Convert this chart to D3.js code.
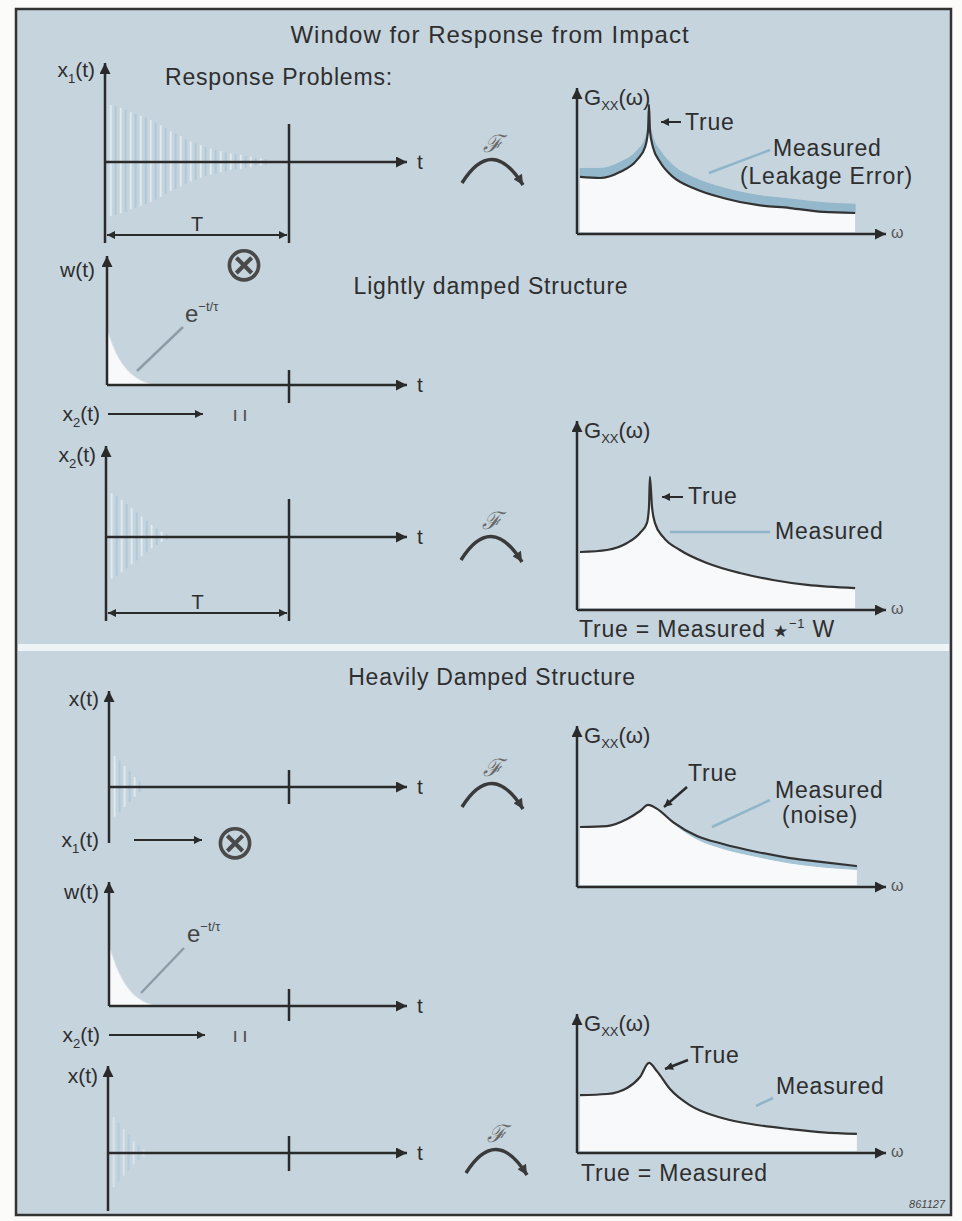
<!DOCTYPE html>
<html>
<head>
<meta charset="utf-8">
<script src="https://cdn.jsdelivr.net/npm/d3@7"></script>
<style>
  body { margin: 0; background: #fbfbfa; }
  text { font-family: "Liberation Sans", Arial, sans-serif; fill: #2e2e2e; }
</style>
</head>
<body>
<svg id="fig" width="962" height="1221"></svg>
<script>
// ---------- data ----------
// time axes are in units of the window length T (T = 1)
// pulse amplitudes of the oscillating response, fraction of full scale
var x1Amp = [0.95, 0.93, 0.9, 0.87, 0.83, 0.8, 0.77, 0.74, 0.7, 0.66, 0.61, 0.56, 0.51, 0.47, 0.43, 0.38,
             0.34, 0.31, 0.28, 0.25, 0.22, 0.2, 0.18, 0.16, 0.14, 0.13, 0.12, 0.1, 0.09, 0.07, 0.06, 0.05];
var x2Amp = [0.73, 0.68, 0.62, 0.55, 0.48, 0.41, 0.34, 0.27, 0.2, 0.14, 0.09, 0.05];
var xHeavyAmp = [0.52, 0.44, 0.35, 0.26, 0.17, 0.09];
var xHeavyWinAmp = [0.6, 0.5, 0.4, 0.3, 0.2, 0.12, 0.06];

// exponential window e^(-t/tau)
var winT = [0, 0.04, 0.08, 0.12, 0.16, 0.2, 0.24];
var winW = [0.43, 0.27, 0.17, 0.1, 0.055, 0.025, 0.008];

// auto spectra G_xx(w), w normalised to the drawn axis
var spec1W    = [0.01, 0.077, 0.143, 0.2, 0.227, 0.237, 0.24, 0.243, 0.253, 0.277, 0.32, 0.387, 0.487, 0.6, 0.71, 0.82, 0.927];
var spec1G    = [0.383, 0.376, 0.416, 0.497, 0.584, 0.698, 0.866, 0.698, 0.584, 0.483, 0.383, 0.309, 0.242, 0.195, 0.174, 0.148, 0.141];
var spec1Meas = [0.44, 0.44, 0.48, 0.56, 0.64, 0.74, 0.87, 0.74, 0.65, 0.56, 0.46, 0.38, 0.31, 0.26, 0.235, 0.21, 0.2];

var spec2W = [0.01, 0.1, 0.167, 0.21, 0.233, 0.24, 0.243, 0.25, 0.26, 0.287, 0.343, 0.433, 0.543, 0.653, 0.767, 0.927];
var spec2G = [0.317, 0.328, 0.366, 0.421, 0.475, 0.563, 0.727, 0.563, 0.475, 0.399, 0.328, 0.257, 0.202, 0.164, 0.137, 0.12];

var spec3W     = [0.01, 0.1, 0.167, 0.21, 0.237, 0.267, 0.32, 0.4, 0.487, 0.6, 0.71, 0.82, 0.933];
var spec3G     = [0.375, 0.381, 0.425, 0.475, 0.513, 0.488, 0.406, 0.319, 0.269, 0.219, 0.181, 0.156, 0.131];
var spec3Noise = [0.375, 0.381, 0.425, 0.475, 0.513, 0.488, 0.4, 0.3, 0.24, 0.19, 0.15, 0.125, 0.11];

var spec4W = [0.01, 0.1, 0.167, 0.21, 0.24, 0.267, 0.31, 0.377, 0.487, 0.6, 0.71, 0.82, 0.933];
var spec4G = [0.426, 0.434, 0.478, 0.559, 0.662, 0.6, 0.47, 0.35, 0.255, 0.206, 0.176, 0.152, 0.14];

// ---------- drawing ----------
var ink = '#2a2a2a',
  paleBlue = '#8fb5c9',
  curveFill = '#f7f9fa';

var svg = d3.select('#fig');
var defs = svg.append('defs');

function makeMarker(id, len, wid, color) {
  defs.append('marker')
    .attr('id', id)
    .attr('viewBox', '0 0 10 10')
    .attr('refX', 10).attr('refY', 5)
    .attr('markerUnits', 'userSpaceOnUse')
    .attr('markerWidth', len).attr('markerHeight', wid)
    .attr('orient', 'auto-start-reverse')
    .append('path')
    .attr('d', 'M0,0 L10,5 L0,10 z')
    .attr('fill', color);
}
makeMarker('ah', 17, 11, ink);
makeMarker('ahSmall', 12, 8, ink);
makeMarker('ahArc', 13, 10, '#3a3a3a');

// frame and panels
svg.append('rect')
  .attr('x', 16).attr('y', 9).attr('width', 935).attr('height', 1206)
  .attr('fill', '#c6d4de').attr('stroke', '#333').attr('stroke-width', 2.5);
svg.append('rect')
  .attr('x', 18).attr('y', 644).attr('width', 931).attr('height', 7)
  .attr('fill', '#eef3f5');

function line(g, x1, y1, x2, y2, color, w) {
  return g.append('line')
    .attr('x1', x1).attr('y1', y1).attr('x2', x2).attr('y2', y2)
    .attr('stroke', color || ink).attr('stroke-width', w || 2.5);
}

function label(x, y, base, sub, rest, size, anchor) {
  var t = svg.append('text')
    .attr('x', x).attr('y', y)
    .attr('text-anchor', anchor || 'start')
    .style('font-size', size + 'px');
  t.append('tspan').text(base);
  if (sub) {
    t.append('tspan').attr('dy', size * 0.28).style('font-size', (size * 0.62) + 'px').text(sub);
    t.append('tspan').attr('dy', -size * 0.28).text(rest);
  } else {
    t.append('tspan').text(rest);
  }
  return t;
}

function bigText(x, y, s, size, anchor, spacing) {
  return svg.append('text')
    .attr('x', x).attr('y', y)
    .attr('text-anchor', anchor || 'start')
    .style('font-size', (size || 23) + 'px')
    .style('letter-spacing', (spacing || 0.8) + 'px')
    .text(s);
}

// time record panels
function drawTimePanel(p) {
  var g = svg.append('g');
  var t = d3.scaleLinear().domain([0, 1]).range([p.ox, 289]);
  var a = d3.scaleLinear().domain([-1, 1]).range([p.oy + 60, p.oy - 60]);

  if (p.amp) {
    var idx = d3.scaleBand()
      .domain(d3.range(p.amp.length))
      .range([t(0.02), t(0.02) + p.amp.length * 5]);
    g.selectAll('.pulse')
      .data(p.amp)
      .enter().append('line')
      .attr('class', 'pulse')
      .attr('x1', function(d, i) { return idx(i) + 2; })
      .attr('x2', function(d, i) { return idx(i) + 2; })
      .attr('y1', function(d) { return a(d); })
      .attr('y2', function(d) { return a(-d * 0.95); })
      .attr('stroke', function(d, i) { return i % 2 ? '#adc8d7' : '#e3edf2'; })
      .attr('stroke-width', 1.8)
      .attr('opacity', p.faint ? 0.7 : 0.95);
  }

  if (p.win) {
    var wy = d3.scaleLinear().domain([0, 1]).range([p.oy, p.top]);
    var pts = winT.map(function(d, i) { return { t: d, w: winW[i] }; });
    g.append('path')
      .datum(pts)
      .attr('d', d3.area()
        .x(function(d) { return t(d.t); })
        .y0(p.oy)
        .y1(function(d) { return wy(d.w * p.winScale); })
        .curve(d3.curveBasis))
      .attr('fill', curveFill)
      .attr('stroke', '#dbe4ea')
      .attr('stroke-width', 1);
  }

  // axes
  line(g, p.ox, p.bottom, p.ox, p.top).attr('marker-end', 'url(#ah)');
  line(g, p.ox, p.oy, 407, p.oy).attr('marker-end', 'url(#ah)');
  svg.append('text').attr('x', 417).attr('y', p.oy + 7).style('font-size', '21px').text('t');

  // window end T
  if (p.tLine) {
    line(g, t(1), p.tLine[0], t(1), p.tLine[1]);
  }
  if (p.dimY) {
    line(g, t(0) + 2, p.dimY, t(1) - 2, p.dimY, ink, 2)
      .attr('marker-start', 'url(#ahSmall)')
      .attr('marker-end', 'url(#ahSmall)');
    svg.append('text')
      .attr('x', t(0.5)).attr('y', p.dimY - 4)
      .attr('text-anchor', 'middle')
      .style('font-size', '20px')
      .text('T');
  }
}

drawTimePanel({ ox: 105, oy: 162, top: 63, bottom: 243, amp: x1Amp, tLine: [124, 243], dimY: 235 });
drawTimePanel({ ox: 107, oy: 385, top: 256, bottom: 385, win: true, winScale: 1, tLine: [370, 403] });
drawTimePanel({ ox: 106, oy: 537, top: 446, bottom: 621, amp: x2Amp, tLine: [499, 621], dimY: 613 });
drawTimePanel({ ox: 109, oy: 787, top: 691, bottom: 843, amp: xHeavyAmp, tLine: [770, 804] });
drawTimePanel({ ox: 109, oy: 1006, top: 882, bottom: 1006, win: true, winScale: 1.15, tLine: [989, 1021] });
drawTimePanel({ ox: 108, oy: 1153, top: 1066, bottom: 1211, amp: xHeavyWinAmp, faint: true, tLine: [1136, 1171] });

// left labels
label(95, 77, 'x', '1', '(t)', 21, 'end');
label(95, 277, 'w(t)', null, '', 21, 'end');
label(100, 421, 'x', '2', '(t)', 21, 'end');
label(96, 462, 'x', '2', '(t)', 21, 'end');
label(99, 706, 'x(t)', null, '', 21, 'end');
label(99, 847, 'x', '1', '(t)', 21, 'end');
label(99, 899, 'w(t)', null, '', 21, 'end');
label(100, 1042, 'x', '2', '(t)', 21, 'end');
label(98, 1083, 'x(t)', null, '', 21, 'end');

// flow arrows between rows
line(svg, 108, 414, 203, 414, ink, 2).attr('marker-end', 'url(#ahSmall)');
line(svg, 134, 840, 202, 840, ink, 2).attr('marker-end', 'url(#ahSmall)');
line(svg, 109, 1035, 205, 1035, ink, 2).attr('marker-end', 'url(#ahSmall)');
[[242, 421], [242, 1042]].forEach(function(p) {
  svg.append('text').attr('x', p[0]).attr('y', p[1])
    .attr('text-anchor', 'middle').style('font-size', '21px').style('fill', '#555')
    .style('letter-spacing', '4px')
    .text('ıı');
});
[[244, 281], [235, 859]].forEach(function(p) {
  svg.append('text').attr('x', p[0]).attr('y', p[1])
    .attr('text-anchor', 'middle')
    .style('font-family', 'DejaVu Sans').style('font-size', '50px').style('fill', '#4a4a4a')
    .text('⊗');
});

// e^-t/tau call-outs
[[185, 322, 183, 327, 137, 371], [187, 942, 184, 948, 141, 993]].forEach(function(p) {
  var t = svg.append('text').attr('x', p[0]).attr('y', p[1]).style('font-size', '24px').style('fill', '#444');
  t.append('tspan').text('e');
  t.append('tspan').attr('dy', -11).style('font-size', '13px').text('−t/τ');
  line(svg, p[2], p[3], p[4], p[5], '#8d9ca6', 2.5);
});

// headings
bigText(490, 43, 'Window for Response from Impact', 24, 'middle', 1);
bigText(165, 85, 'Response Problems:');
bigText(491, 294, 'Lightly damped Structure', 23, 'middle');
bigText(492, 685, 'Heavily Damped Structure', 23, 'middle');

// Fourier transform arcs
[[492, 183], [491, 560], [492, 807], [496, 1173]].forEach(function(c) {
  svg.append('path')
    .attr('d', 'M' + (c[0] - 30) + ',' + c[1] + ' Q' + c[0] + ',' + (c[1] - 48) + ' ' + (c[0] + 31) + ',' + (c[1] + 2))
    .attr('fill', 'none').attr('stroke', '#3a3a3a').attr('stroke-width', 3.5)
    .attr('marker-end', 'url(#ahArc)');
  svg.append('text')
    .attr('x', c[0] + 1).attr('y', c[1] - 31)
    .attr('text-anchor', 'middle')
    .style('font-family', 'DejaVu Serif').style('font-style', 'italic')
    .style('font-size', '24px').style('fill', '#6a6a6a')
    .text('ℱ');
});

// spectra
function drawSpectrum(s) {
  var g = svg.append('g');
  var w = d3.scaleLinear().domain([0, 1]).range([577, 877]);
  var G = d3.scaleLinear().domain([0, 1]).range([s.base, s.gTop]);
  var pts = s.w.map(function(d, i) {
    return { w: d, g: s.g[i], m: s.meas ? s.meas[i] : s.g[i] };
  });

  g.append('path')
    .datum(pts)
    .attr('d', d3.area()
      .x(function(d) { return w(d.w); })
      .y0(s.base - 2)
      .y1(function(d) { return G(d.g); })
      .curve(d3.curveMonotoneX))
    .attr('fill', curveFill);

  if (s.meas) {
    g.append('path')
      .datum(pts)
      .attr('d', d3.area()
        .x(function(d) { return w(d.w); })
        .y0(function(d) { return G(d.g); })
        .y1(function(d) { return G(d.m); })
        .curve(d3.curveMonotoneX))
      .attr('fill', s.bandColor)
      .attr('stroke', s.bandColor)
      .attr('stroke-width', 1);
  }

  g.append('path')
    .datum(pts)
    .attr('d', d3.line()
      .x(function(d) { return w(d.w); })
      .y(function(d) { return G(d.g); })
      .curve(d3.curveMonotoneX))
    .attr('fill', 'none')
    .attr('stroke', '#333')
    .attr('stroke-width', 2.2);

  line(g, w(0), s.base, w(0), s.axisTop).attr('marker-end', 'url(#ah)');
  line(g, w(0), s.base, 886, s.base).attr('marker-end', 'url(#ah)');
  svg.append('text').attr('x', 891).attr('y', s.base + 4)
    .style('font-size', '16px').style('fill', '#555').text('ω');

  var gl = svg.append('text').attr('x', 584).attr('y', s.axisTop + 17).style('font-size', '22px');
  gl.append('tspan').text('G');
  gl.append('tspan').attr('dy', 5).style('font-size', '13px').text('XX');
  gl.append('tspan').attr('dy', -5).text('(ω)');
}

drawSpectrum({ base: 234, gTop: 85, axisTop: 88, w: spec1W, g: spec1G, meas: spec1Meas, bandColor: '#93b7cb' });
drawSpectrum({ base: 610, gTop: 427, axisTop: 421, w: spec2W, g: spec2G });
drawSpectrum({ base: 887, gTop: 727, axisTop: 726, w: spec3W, g: spec3G, meas: spec3Noise, bandColor: '#a5c4d5' });
drawSpectrum({ base: 1153, gTop: 1017, axisTop: 1014, w: spec4W, g: spec4G });

// spectrum annotations
line(svg, 681, 122, 661, 122, ink, 2).attr('marker-end', 'url(#ahSmall)');
bigText(685, 130, 'True');
bigText(773, 156, 'Measured');
bigText(740, 184, '(Leakage Error)');
line(svg, 770, 150, 709, 173, paleBlue, 2.5);

line(svg, 683, 497, 662, 497, ink, 2).attr('marker-end', 'url(#ahSmall)');
bigText(688, 504, 'True');
bigText(775, 539, 'Measured');
line(svg, 770, 532, 670, 532, paleBlue, 2.5);
var eq = bigText(579, 637, 'True = Measured ');
eq.append('tspan').style('font-size', '17px').text('★');
eq.append('tspan').attr('dy', -9).style('font-size', '13px').text('−1');
eq.append('tspan').attr('dy', 9).text(' W');

line(svg, 687, 787, 664, 807, ink, 2.5).attr('marker-end', 'url(#ahSmall)');
bigText(688, 781, 'True');
bigText(775, 798, 'Measured');
bigText(782, 823, '(noise)');
line(svg, 770, 800, 712, 827, paleBlue, 2.5);

line(svg, 688, 1060, 665, 1069, ink, 2.5).attr('marker-end', 'url(#ahSmall)');
bigText(690, 1063, 'True');
bigText(776, 1094, 'Measured');
line(svg, 773, 1098, 756, 1106, paleBlue, 2.5);
bigText(581, 1181, 'True = Measured');

svg.append('text').attr('x', 945).attr('y', 1208)
  .attr('text-anchor', 'end')
  .style('font-size', '11px').style('font-style', 'italic').style('fill', '#444')
  .text('861127');
</script>
</body>
</html>
